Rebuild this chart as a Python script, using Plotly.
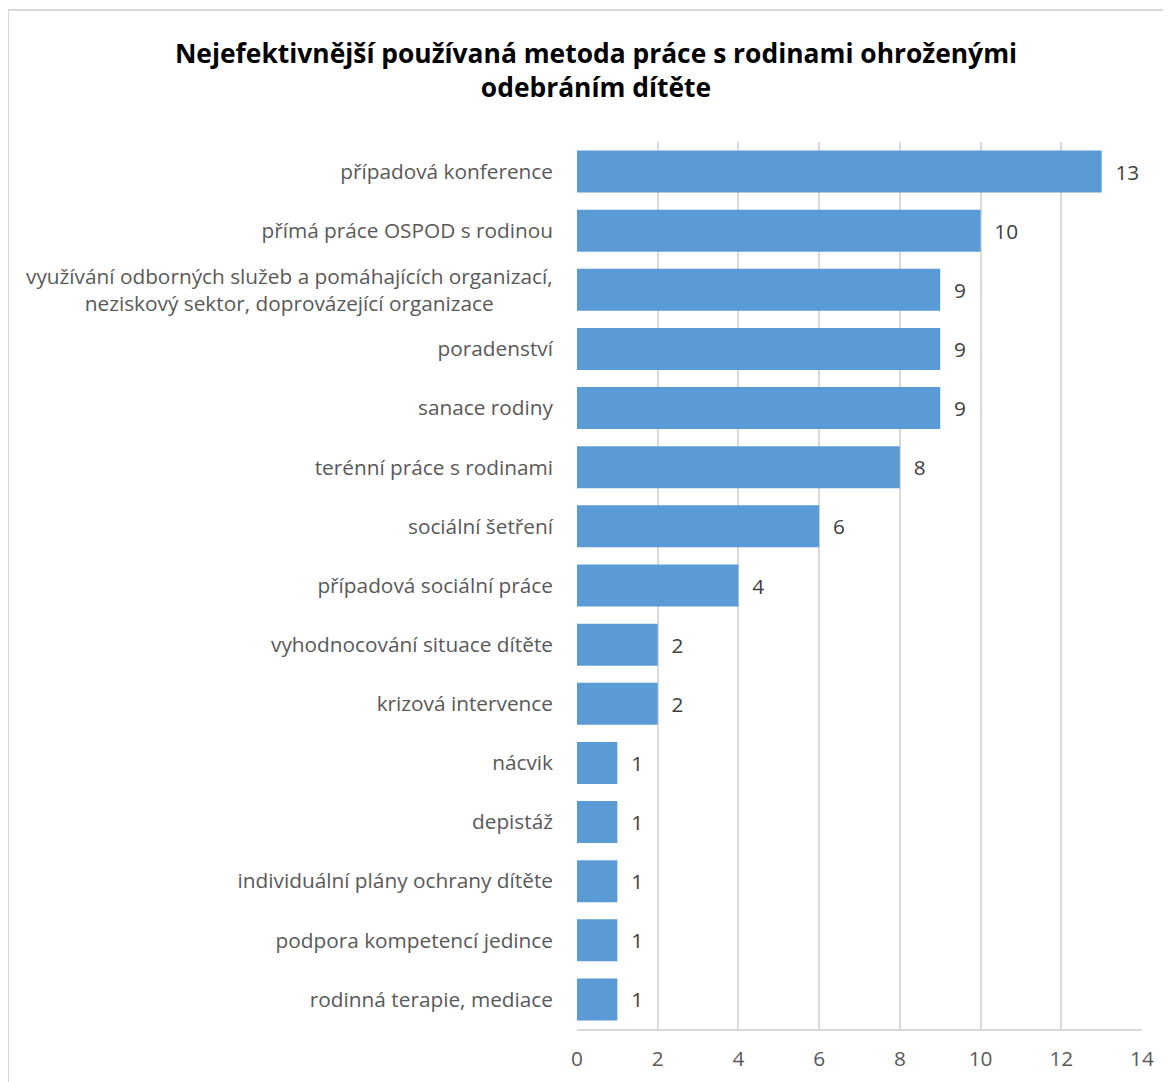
import plotly.graph_objects as go

categories = [
    "případová konference",
    "přímá práce OSPOD s rodinou",
    "využívání odborných služeb a pomáhajících organizací,<br>neziskový sektor, doprovázející organizace",
    "poradenství",
    "sanace rodiny",
    "terénní práce s rodinami",
    "sociální šetření",
    "případová sociální práce",
    "vyhodnocování situace dítěte",
    "krizová intervence",
    "nácvik",
    "depistáž",
    "individuální plány ochrany dítěte",
    "podpora kompetencí jedince",
    "rodinná terapie, mediace",
]
values = [13, 10, 9, 9, 9, 8, 6, 4, 2, 2, 1, 1, 1, 1, 1]
x_ticks = [0, 2, 4, 6, 8, 10, 12, 14]

FONT = "'Open Sans', sans-serif"
FS = 20.8
# page has an 8px body margin; figure is placed at (8, 8)
OFF = 8
W, H = 1171 - OFF, 1082 - OFF
L = 577 - OFF
R = W - (1142 - OFF)
T = 142 - OFF
B = H - (1029 - OFF)
pw, ph = W - L - R, H - T - B

fig = go.Figure(go.Bar(
    y=categories,
    x=values,
    orientation="h",
    marker=dict(color="#5B9BD5", line=dict(width=0)),
    text=["\u00a0\u00a0" + str(v) for v in values],
    textposition="outside",
    textfont=dict(family=FONT, size=FS, color="#404040"),
    cliponaxis=False,
    hoverinfo="x+y",
))

long_cat = categories[2]
ticktext = ["" if c == long_cat else c for c in categories]

fig.add_annotation(
    x=0, y=long_cat, xref="paper", yref="y",
    xanchor="right", yanchor="middle", xshift=-22,
    text=long_cat, showarrow=False, align="center",
    font=dict(family=FONT, size=FS, color="#595959"),
)

fig.update_layout(
    width=W, height=H,
    margin=dict(l=L, r=R, t=T, b=B, autoexpand=False),
    paper_bgcolor="white", plot_bgcolor="white",
    bargap=0.29,
    showlegend=False,
    title=dict(
        text="<b>Nejefektivnější používaná metoda práce s rodinami ohroženými<br>odebráním dítěte</b>",
        x=(596 - OFF - L) / pw, xanchor="center", xref="paper",
        y=1 - (63 - OFF) / H, yanchor="middle",
        font=dict(family=FONT, size=26.4, color="#000000"),
    ),
    xaxis=dict(
        range=[0, 14], tickvals=x_ticks, showgrid=True, gridcolor="#d9d9d9", gridwidth=1.5,
        zeroline=False, showline=True, linecolor="#d9d9d9", linewidth=1.5,
        tickfont=dict(family=FONT, size=FS, color="#595959"), ticks="", ticklabelstandoff=10,
    ),
    yaxis=dict(
        categoryorder="array", categoryarray=categories, autorange="reversed",
        tickvals=categories, ticktext=ticktext, showgrid=False, zeroline=False,
        showline=False, ticks="", ticklabelstandoff=23,
        tickfont=dict(family=FONT, size=FS, color="#595959"),
    ),
    shapes=[dict(
        type="rect", xref="paper", yref="paper",
        x0=(8 - OFF - L) / pw, x1=(W + 20 - L) / pw,
        y0=-(B + 20) / ph, y1=(H - B - (10 - OFF)) / ph,
        line=dict(color="#d9d9d9", width=2), fillcolor="rgba(0,0,0,0)", layer="below",
    )],
)

fig.write_html("out.html")
